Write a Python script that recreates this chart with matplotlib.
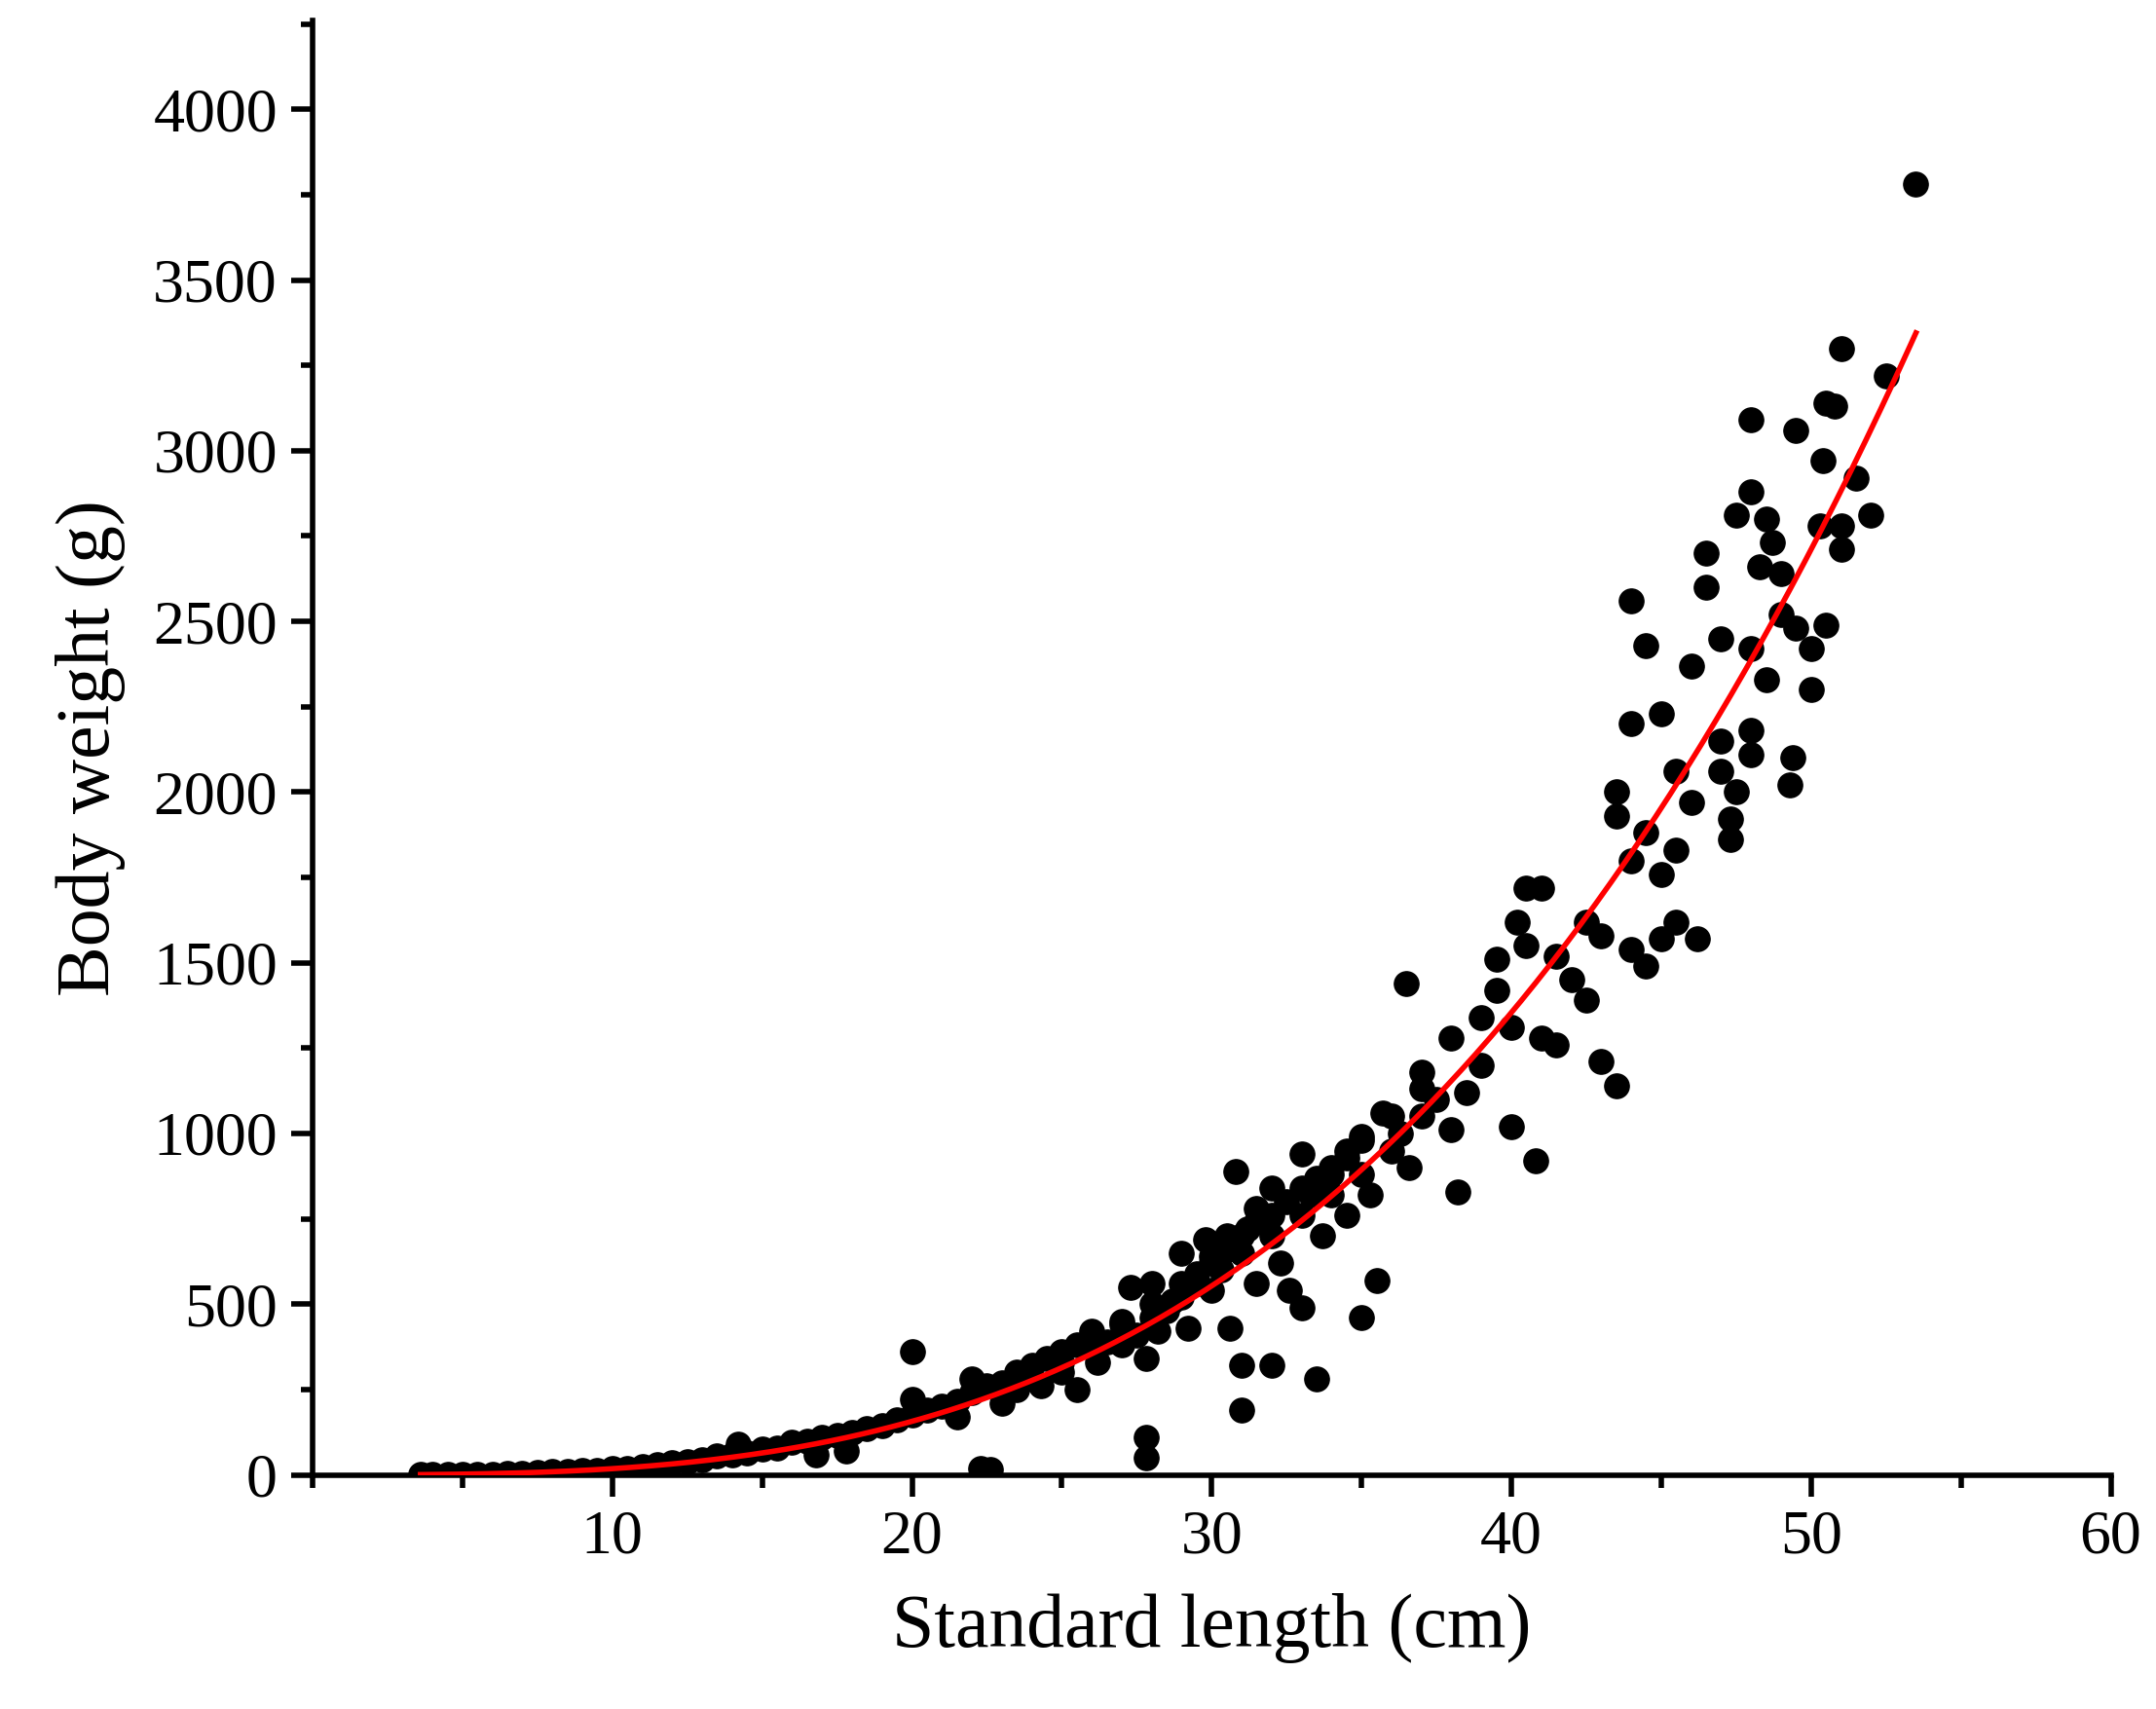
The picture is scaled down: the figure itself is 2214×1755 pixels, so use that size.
import numpy as np
import matplotlib.pyplot as plt
from matplotlib.ticker import MultipleLocator

# standard length (cm) and body weight (g)
length_cm = [3.6, 4, 4.5, 5, 5.5, 6, 6.5, 7, 7.5, 8, 8.5, 9, 9.5, 10, 10.5, 11, 11.5, 12, 12.5, 13,
             13.5, 14, 14.2, 14.5, 15, 15.5, 16, 16.5, 16.8, 17, 17.5, 17.8, 18, 18.5, 19, 19.5, 20, 20, 20,
             20.5, 21, 21.5, 21.5, 22, 22, 22.3, 22.6, 22.5, 23, 23, 23.5, 23.5, 24, 24.3, 24.5, 25, 25,
             25.5, 25.5, 26, 26, 26.2, 26.5, 27, 27, 27.3, 27.5, 27.8, 27.8, 27.8, 28, 28, 28.2, 28.5, 28.7,
             29, 29, 29.2, 29.5, 29.8, 30, 30, 30.3, 30.5, 30.6, 30.8, 31, 31, 31, 31.2, 31.5, 31.5, 32, 32,
             32, 32.3, 32.6, 33, 33, 33, 33.3, 33.5, 33.7, 34, 34, 34.5, 34.5, 35, 35, 35, 35.3, 35.5, 35.7,
             36, 36.3, 36.5, 36.6, 37, 37, 37.5, 38, 38, 38.2, 38.5, 39, 39, 39.5, 39.5, 40, 40, 40.2, 40.5,
             40.5, 40.8, 41, 41, 41.5, 41.5, 42, 42.5, 42.5, 43, 43, 43.5, 43.5, 43.5, 44, 44, 44, 44, 44.5,
             44.5, 44.5, 45, 45, 45, 45.5, 45.5, 45.5, 46, 46, 46.2, 46.5, 46.5, 47, 47, 47, 47.3, 47.3,
             47.5, 47.5, 48, 48, 48, 48, 48, 48.3, 48.5, 48.5, 48.7, 49, 49, 49.3, 49.4, 49.5, 49.5, 50, 50,
             50.3, 50.4, 50.5, 50.5, 50.8, 51, 51, 51, 51.5, 52, 52.5, 53.5,
             24, 25, 26, 27, 28, 29, 30, 31, 32, 33, 34, 35, 36, 37, 29.5, 30.5, 31.5, 32.5, 33.5, 34.5]
weight_g = [1, 1, 2, 2, 3, 3, 4, 5, 7, 9, 10, 12, 14, 18, 20, 25, 30, 35, 38, 45,
            55, 60, 90, 65, 75, 80, 95, 100, 60, 110, 115, 70, 125, 135, 145, 160, 175, 360, 220,
            190, 200, 215, 170, 240, 280, 20, 15, 260, 270, 210, 300, 250, 320, 260, 340, 360, 300,
            380, 250, 400, 420, 330, 390, 440, 380, 550, 410, 50, 110, 340, 560, 460, 420, 480, 510,
            650, 520, 430, 560, 690, 540, 620, 600, 700, 430, 890, 190, 320, 650, 720, 560, 780, 320, 700,
            840, 620, 540, 940, 490, 760, 820, 280, 700, 880, 820, 930, 760, 460, 990, 880, 820, 570, 1060,
            950, 1000, 1440, 900, 1180, 1050, 1100, 1280, 1010, 830, 1120, 1340, 1200, 1510, 1420, 1020, 1310, 1620, 1720,
            1550, 920, 1720, 1280, 1520, 1260, 1450, 1390, 1620, 1210, 1580, 1140, 1930, 2000, 1800, 1540, 2200, 2560, 1490,
            2430, 1880, 1760, 2230, 1570, 1830, 2060, 1620, 1970, 2370, 1570, 2700, 2600, 2450, 2150, 2060, 1860, 1920,
            2810, 2000, 3090, 2880, 2420, 2180, 2110, 2660, 2800, 2330, 2730, 2640, 2520, 2020, 2100, 3060, 2480, 2420, 2300,
            2780, 2970, 3140, 2490, 3130, 3300, 2710, 2780, 2920, 2810, 3220, 3780,
            280, 330, 390, 450, 500, 560, 640, 700, 760, 840, 900, 980, 1050, 1130, 590, 660, 740, 800, 870, 950]

# fitted length-weight relationship W = a * L^b
fit_a = 0.0141
fit_b = 3.11
fit_range = (3.6, 53.5)


def main():
    plt.rcParams['font.family'] = 'Liberation Serif'
    fig = plt.figure(figsize=(22.14, 17.55), dpi=100)
    ax = fig.add_axes([0.145, 0.137, 0.834, 0.851])

    ax.scatter(length_cm, weight_g, s=330, color='black', zorder=2)
    fit_x = np.linspace(fit_range[0], fit_range[1], 300)
    ax.plot(fit_x, fit_a * fit_x ** fit_b, color='red', lw=4, zorder=3)

    ax.set_xlim(0, 60)
    ax.set_ylim(0, 4260)
    ax.xaxis.set_major_locator(MultipleLocator(10))
    ax.xaxis.set_minor_locator(MultipleLocator(5))
    ax.yaxis.set_major_locator(MultipleLocator(500))
    ax.yaxis.set_minor_locator(MultipleLocator(250))
    ax.set_xticks([10, 20, 30, 40, 50, 60])

    for side in ['top', 'right']:
        ax.spines[side].set_visible(False)
    for side in ['left', 'bottom']:
        ax.spines[side].set_linewidth(4)
    ax.tick_params(which='major', length=16, width=4, labelsize=46, pad=10)
    ax.tick_params(which='minor', length=9, width=4)

    ax.set_xlabel('Standard length (cm)', fontsize=56, labelpad=20)
    ax.set_ylabel('Body weight (g)', fontsize=56, labelpad=20)

    plt.savefig('out.png')
    plt.close()


if __name__ == '__main__':
    main()
